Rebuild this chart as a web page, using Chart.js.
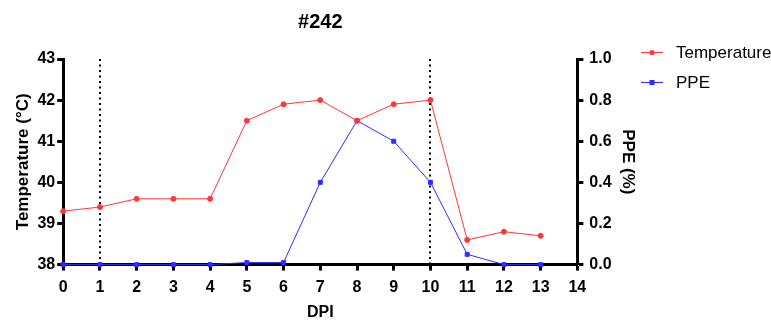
<!DOCTYPE html>
<html>
<head>
<meta charset="utf-8">
<script src="https://cdn.jsdelivr.net/npm/chart.js@4/dist/chart.umd.min.js"></script>
<style>
  html, body { margin: 0; padding: 0; background: #fff; overflow: hidden; }
  #wrap { width: 771px; height: 320px; }
</style>
</head>
<body>
<div id="wrap"><canvas id="chart" width="771" height="320"></canvas></div>
<script>
// Dados
var dpi = [0, 1, 2, 3, 4, 5, 6, 7, 8, 9, 10, 11, 12, 13];
var temperature = [39.3, 39.4, 39.6, 39.6, 39.6, 41.5, 41.9, 42.0, 41.5, 41.9, 42.0, 38.6, 38.8, 38.7];
var ppe = [0, 0, 0, 0, 0, 0.01, 0.01, 0.4, 0.7, 0.6, 0.4, 0.05, 0, 0];
var markerDays = [1, 10];

var red = 'rgb(255, 55, 55)';
var blue = 'rgb(45, 45, 255)';
var FONT = '"Liberation Sans", Arial, sans-serif';

function toPoints(xs, ys) {
    return xs.map(function (x, i) { return { x: x, y: ys[i] }; });
}

var dottedLines = {
    id: 'dottedLines',
    beforeDatasetsDraw: function (chart) {
        var ctx = chart.ctx, x = chart.scales.x, a = chart.chartArea;
        ctx.save();
        ctx.strokeStyle = '#000';
        ctx.lineWidth = 2;
        ctx.setLineDash([2, 3.5]);
        markerDays.forEach(function (d) {
            var px = Math.round(x.getPixelForValue(d));
            ctx.beginPath();
            ctx.moveTo(px, a.top);
            ctx.lineTo(px, a.bottom);
            ctx.stroke();
        });
        ctx.restore();
    }
};

// legenda à direita: linha com ponto + texto
var lineLegend = {
    id: 'lineLegend',
    afterDraw: function (chart) {
        var ctx = chart.ctx;
        var x0 = 641, y0 = 52, step = 30;
        ctx.save();
        ctx.font = '17px ' + FONT;
        ctx.textBaseline = 'middle';
        chart.data.datasets.forEach(function (ds, i) {
            var y = y0 + i * step;
            ctx.strokeStyle = ds.borderColor;
            ctx.fillStyle = ds.borderColor;
            ctx.lineWidth = 1;
            ctx.beginPath(); ctx.moveTo(x0, y + 0.5); ctx.lineTo(x0 + 22, y + 0.5); ctx.stroke();
            if (ds.pointStyle === 'rect') {
                ctx.fillRect(x0 + 8.5, y - 2, 5, 5);
            } else {
                ctx.beginPath(); ctx.arc(x0 + 11, y + 0.5, 2.6, 0, Math.PI * 2); ctx.fill();
            }
            ctx.fillStyle = '#000';
            ctx.fillText(ds.label, x0 + 35, y + 1);
        });
        ctx.restore();
    }
};

function axisStyle() {
    return {
        border: { display: true, width: 3, color: '#000' },
        grid: { drawOnChartArea: false, drawTicks: true, tickLength: 6, tickWidth: 3, tickColor: '#000' }
    };
}

var xAxis = Object.assign(axisStyle(), {
    type: 'linear', min: 0, max: 14,
    ticks: { stepSize: 1, color: '#000', font: { family: FONT, size: 16, weight: 'bold' }, padding: 7 },
    title: { display: true, text: 'DPI', color: '#000', font: { family: FONT, size: 16, weight: 'bold' }, padding: { top: -1, bottom: 0 } }
});
var yAxis = Object.assign(axisStyle(), {
    position: 'left', min: 38, max: 43,
    ticks: { stepSize: 1, color: '#000', font: { family: FONT, size: 16, weight: 'bold' }, padding: 2 },
    title: { display: true, text: 'Temperature (°C)', color: '#000', font: { family: FONT, size: 17, weight: 'bold' }, padding: { top: 0, bottom: 2 } }
});
var y1Axis = Object.assign(axisStyle(), {
    position: 'right', min: 0, max: 1,
    ticks: { stepSize: 0.2, color: '#000', font: { family: FONT, size: 16, weight: 'bold' }, padding: 6,
             callback: function (v) { return v.toFixed(1); } },
    title: { display: true, text: 'PPE (%)', color: '#000', font: { family: FONT, size: 17, weight: 'bold' }, padding: { top: 0, bottom: 0 } }
});

new Chart(document.getElementById('chart').getContext('2d'), {
    type: 'line',
    data: {
        datasets: [
            {
                label: 'Temperature',
                data: toPoints(dpi, temperature),
                yAxisID: 'y',
                borderColor: red, backgroundColor: red,
                borderWidth: 1, pointRadius: 2.5, pointStyle: 'circle',
                tension: 0, clip: false
            },
            {
                label: 'PPE',
                data: toPoints(dpi, ppe),
                yAxisID: 'y1',
                borderColor: blue, backgroundColor: blue,
                borderWidth: 1, pointRadius: 2.8, pointStyle: 'rect',
                tension: 0, clip: false
            }
        ]
    },
    options: {
        responsive: false,
        animation: false,
        layout: { padding: { left: 13, right: 133, top: 10, bottom: -2 } },
        plugins: {
            title: {
                display: true, text: '#242', fullSize: false, color: '#000',
                font: { family: FONT, size: 20, weight: 'bold' },
                padding: { top: 0, bottom: 25 }
            },
            legend: { display: false },
            tooltip: { enabled: false }
        },
        scales: { x: xAxis, y: yAxis, y1: y1Axis }
    },
    plugins: [dottedLines, lineLegend]
});
</script>
</body>
</html>
